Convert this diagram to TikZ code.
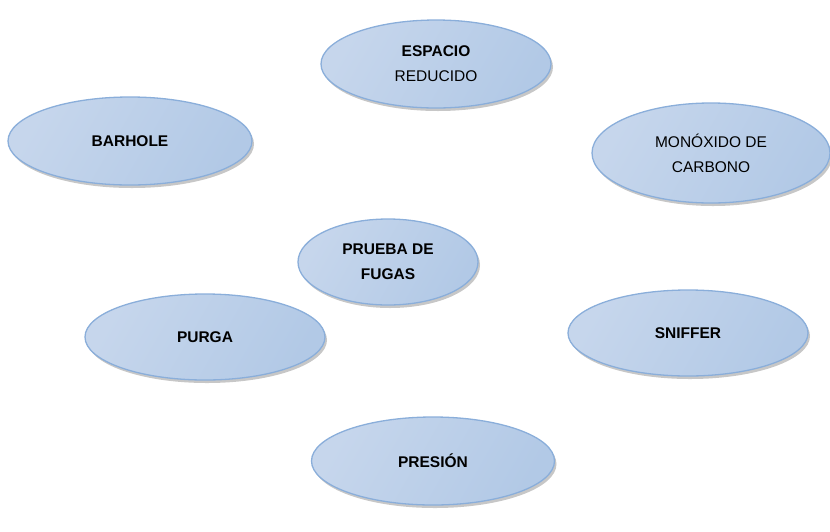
\documentclass[tikz,border=0pt]{standalone}
\usepackage{fontspec}
\setmainfont{Liberation Sans}
\usepackage{tikz}
\usetikzlibrary{shapes.geometric,shadows}
\definecolor{bubbleLeft}{RGB}{198,214,236}
\definecolor{bubbleMid}{RGB}{226,234,245}
\definecolor{bubbleRight}{RGB}{178,201,230}
\definecolor{bubbleLine}{RGB}{138,174,218}

\begin{document}
\begin{tikzpicture}[x=1pt,y=-1pt,
        every node/.style={font=\fontsize{15.5}{25}\selectfont,align=center,text=black},
        bubble/.style={ellipse,inner sep=0pt,draw=bubbleLine,line width=1.3pt,
            left color=bubbleLeft,middle color=bubbleMid,right color=bubbleRight,shading angle=60,
            drop shadow={shadow xshift=2pt,shadow yshift=-3pt,fill=black!40,opacity=0.55}}]
            % keep the page at the size of the drawing
            \useasboundingbox (0,0) rectangle (830,531);

            % top row
            \node[bubble,minimum width=230pt,minimum height=88pt] (espacio) at (436,64)
                {\textbf{ESPACIO}\\REDUCIDO};
            \node[bubble,minimum width=244pt,minimum height=88pt] (barhole) at (130,141)
                {\textbf{BARHOLE}};
            \node[bubble,minimum width=238pt,minimum height=100pt] (monoxido) at (711,153)
                {MONÓXIDO DE\\CARBONO};

            % centre
            \node[bubble,minimum width=180pt,minimum height=86pt] (prueba) at (388,262)
                {\textbf{PRUEBA DE}\\\textbf{FUGAS}};

            % bottom row
            \node[bubble,minimum width=240pt,minimum height=86pt] (purga) at (205,337)
                {\textbf{PURGA}};
            \node[bubble,minimum width=240pt,minimum height=86pt] (sniffer) at (688,333)
                {\textbf{SNIFFER}};
            \node[bubble,minimum width=243pt,minimum height=88pt] (presion) at (433,461)
                {\textbf{PRESIÓN}};

        \end{tikzpicture}
\end{document}
